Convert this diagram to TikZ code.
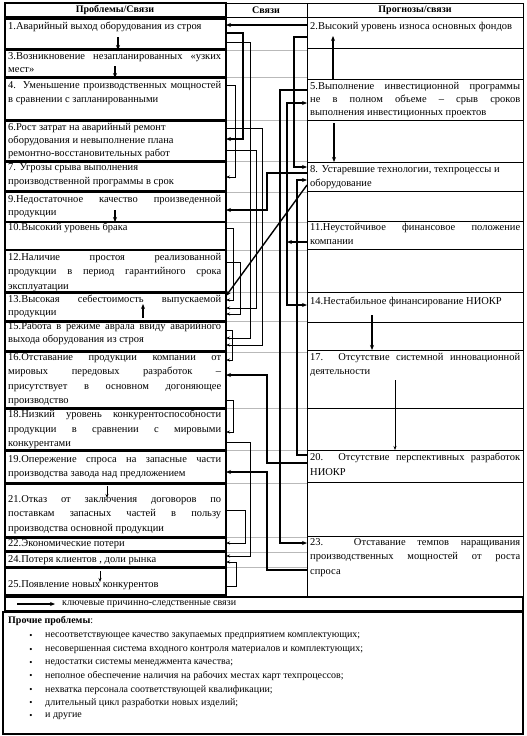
\documentclass[tikz,border=0pt]{standalone}
\usepackage{fontspec}
\setmainfont{Liberation Serif}
\usetikzlibrary{arrows.meta}
\newcommand\J[1]{\makebox[213pt][s]{#1}}
\newcommand\K[1]{\makebox[210pt][s]{#1}}
\begin{document}
\begin{tikzpicture}[x=1pt,y=-1pt,
 lb/.style={draw, line width=1.3pt, minimum width=221pt, inner sep=0pt, outer sep=0pt, anchor=north west},
 rb/.style={draw, line width=0.6pt, minimum width=216pt, inner sep=0pt, outer sep=0pt, anchor=north west},
 tx/.style={anchor=north west, inner sep=0pt, align=left, font=\fontsize{10.5}{14.5}\selectfont},
 tight/.style={font=\fontsize{10.5}{13}\selectfont},
 thk/.style={line width=1.4pt, -{Stealth[length=5pt,width=4pt]}},
 thn/.style={line width=0.6pt, -{Stealth[length=4pt,width=3pt]}},
 ln/.style={line width=0.6pt},
 gridln/.style={line width=0.5pt, gray!55}]
\useasboundingbox (0,0) rectangle (527,736);
% header
\draw[line width=1.3pt] (5,3) rectangle (226,17);
\draw[line width=0.6pt] (226,3) rectangle (307,17) (307,3) rectangle (523,17);
\node[font=\bfseries\fontsize{10}{12}\selectfont] (h1) at (115,10) {Проблемы/Связи};
\node[font=\bfseries\fontsize{10}{12}\selectfont] (h2) at (266,10) {Связи};
\node[font=\bfseries\fontsize{10}{12}\selectfont] (h3) at (415,10) {Прогнозы/связи};
% grid lines across middle column
\foreach \yy in {50,77,120,161,192,222,250,292,321,352,408,450,483,537,552,567}
  \draw[gridln] (227,\yy) -- (307,\yy);
% right column rows
\node[rb, minimum height=31pt] (r2) at (307,17) {};
\node[rb, minimum height=31pt] (e1) at (307,48) {};
\node[rb, minimum height=41pt] (r5) at (307,79) {};
\node[rb, minimum height=42pt] (e2) at (307,120) {};
\node[rb, minimum height=29pt] (r8) at (307,162) {};
\node[rb, minimum height=30pt] (e3) at (307,191) {};
\node[rb, minimum height=28pt] (r11) at (307,221) {};
\node[rb, minimum height=43pt] (e4) at (307,249) {};
\node[rb, minimum height=30pt] (r14) at (307,292) {};
\node[rb, minimum height=28pt] (e5) at (307,322) {};
\node[rb, minimum height=58pt] (r17) at (307,350) {};
\node[rb, minimum height=42pt] (e6) at (307,408) {};
\node[rb, minimum height=32pt] (r20) at (307,450) {};
\node[rb, minimum height=54pt] (e7) at (307,482) {};
\node[rb, minimum height=60pt] (r23) at (307,536) {};
% middle column borders
\draw[line width=1.4pt] (226,3) -- (226,597);
\draw[line width=0.6pt] (307,3) -- (307,597);
% left boxes
\node[lb, minimum height=30pt] (b1) at (5,19) {};
\node[lb, minimum height=27pt] (b3) at (5,50) {};
\node[lb, minimum height=42pt] (b4) at (5,78) {};
\node[lb, minimum height=40pt] (b6) at (5,121) {};
\node[lb, minimum height=29pt] (b7) at (5,162) {};
\node[lb, minimum height=30pt] (b9) at (5,192) {};
\node[lb, minimum height=28pt] (b10) at (5,222) {};
\node[lb, minimum height=42pt] (b12) at (5,250) {};
\node[lb, minimum height=28pt] (b13) at (5,293) {};
\node[lb, minimum height=29pt] (b15) at (5,322) {};
\node[lb, minimum height=56pt] (b16) at (5,352) {};
\node[lb, minimum height=41pt] (b18) at (5,409) {};
\node[lb, minimum height=32pt] (b19) at (5,451) {};
\node[lb, minimum height=53pt] (b21) at (5,484) {};
\node[lb, minimum height=13pt] (b22) at (5,538) {};
\node[lb, minimum height=15pt] (b24) at (5,552) {};
\node[lb, minimum height=27pt] (b25) at (5,568) {};
% left texts
\node[tx] (t1) at (8,22) {1.Аварийный выход оборудования из строя};
\node[tx,tight] (t3) at (8,52) {\J{3.Возникновение незапланированных «узких}\\мест»};
\node[tx] (t4) at (8,81) {\J{4. Уменьшение производственных мощностей}\\в сравнении с запланированными};
\node[tx,tight] (t6) at (8,123) {6.Рост затрат на аварийный ремонт\\оборудования и невыполнение плана\\ремонтно-восстановительных работ};
\node[tx] (t7) at (8,163) {7. Угрозы срыва выполнения\\производственной программы в срок};
\node[tx,tight] (t9) at (8,195) {\J{9.Недостаточное качество произведенной}\\продукции};
\node[tx] (t10) at (8,223) {10.Высокий уровень брака};
\node[tx] (t12) at (8,253) {\J{12.Наличие простоя реализованной}\\\J{продукции в период гарантийного срока}\\эксплуатации};
\node[tx,tight] (t13) at (8,295) {\J{13.Высокая себестоимость выпускаемой}\\продукции};
\node[tx,tight] (t15) at (8,322) {\J{15.Работа в режиме аврала ввиду аварийного}\\выхода оборудования из строя};
\node[tx] (t16) at (8,353) {\J{16.Отставание продукции компании от}\\\J{мировых передовых разработок –}\\\J{присутствует в основном догоняющее}\\производство};
\node[tx] (t18) at (8,410) {\J{18.Низкий уровень конкурентоспособности}\\\J{продукции в сравнении с мировыми}\\конкурентами};
\node[tx] (t19) at (8,455) {\J{19.Опережение спроса на запасные части}\\производства завода над предложением};
\node[tx] (t21) at (8,495) {\J{21.Отказ от заключения договоров по}\\\J{поставкам запасных частей в пользу}\\производства основной продукции};
\node[tx] (t22) at (8,539) {22.Экономические потери};
\node[tx] (t24) at (8,555) {24.Потеря клиентов , доли рынка};
\node[tx] (t25) at (8,580) {25.Появление новых конкурентов};
% right texts
\node[tx] (s2) at (310,22) {2.Высокий уровень износа основных фондов};
\node[tx,tight] (s5) at (310,82) {\K{5.Выполнение инвестиционной программы}\\\K{не в полном объеме – срыв сроков}\\выполнения инвестиционных проектов};
\node[tx] (s8) at (310,165) {8. Устаревшие технологии, техпроцессы и\\оборудование};
\node[tx] (s11) at (310,223) {\K{11.Неустойчивое финансовое положение}\\компании};
\node[tx] (s14) at (310,297) {14.Нестабильное финансирование НИОКР};
\node[tx] (s17) at (310,353) {\K{17. Отсутствие системной инновационной}\\деятельности};
\node[tx] (s20) at (310,453) {\K{20. Отсутствие перспективных разработок}\\НИОКР};
\node[tx] (s23) at (310,538) {\K{23. Отставание темпов наращивания}\\\K{производственных мощностей от роста}\\спроса};
% arrows inside columns
\draw[thk] (118,37) -- (b3.north-|118,0);
\draw[thk] (115,66) -- (b4.north-|115,0);
\draw[thk] (115,210) -- (b10.north-|115,0);
\draw[thk] (143,318) -- (143,304);
\draw[thn] (107,486) -- (107,498);
\draw[thn] (100,571) -- (100,582);
\draw[thk] (r5.north-|333,0) -- (333,36);
\draw[thk] (334,123) -- (r8.north-|334,0);
\draw[thk] (372,315) -- (r17.north-|372,0);
\draw[thn] (395,380) -- (r20.north-|395,0);
% right-side connectors
\draw[thk] (r2.west|-0,25) -- (b1.east|-0,25);
\draw[thk] (r2.west|-0,37) -- (294,37) -- (294,167) -- (r8.west|-0,167);
\draw[thk] (r5.west|-0,90) -- (280,90) -- (280,543) -- (r23.west|-0,543);
\draw[thk] (r11.west|-0,242) -- (287,242);
\draw[thk] (287,242) -- (287,103) -- (r5.west|-0,103);
\draw[thk] (287,242) -- (287,305) -- (r14.west|-0,305);
\draw[thk] (r20.west|-0,455) -- (297,455) -- (297,180) -- (r8.west|-0,180);
\draw[thk] (r8.west|-0,173) -- (267,173) -- (267,210) -- (b9.east|-0,210);
\draw[thk] (r8.west|-0,185) -- (b13.east|-0,296);
\draw[thk] (r20.west|-0,463) -- (267,463) -- (267,375) -- (b16.east|-0,375);
\draw[thk] (r23.west|-0,570) -- (267,570) -- (267,472) -- (b19.east|-0,472);
% left-side connectors
\draw[thk] (b1.east|-0,33) -- (243,33) -- (243,139) -- (b6.east|-0,139);
\draw[thn] (b1.east|-0,42) -- (250,42) -- (250,338) -- (b15.east|-0,338);
\draw[thn] (b4.east|-0,85) -- (235,85) -- (235,177) -- (b7.east|-0,177);
\draw[thn] (b6.east|-0,128) -- (262,128) -- (262,345) -- (b15.east|-0,345);
\draw[thn] (b6.east|-0,150) -- (256,150) -- (256,308) -- (b13.east|-0,308);
\draw[thn] (b10.east|-0,228) -- (233,228) -- (233,300) -- (b13.east|-0,300);
\draw[thn] (b12.east|-0,262) -- (240,262) -- (240,314) -- (b13.east|-0,314);
\draw[thn] (b15.east|-0,330) -- (232,330) -- (232,360) -- (b16.east|-0,360);
\draw[thn] (b16.east|-0,400) -- (233,400) -- (233,432) -- (b18.east|-0,432);
\draw[thn] (b18.east|-0,442) -- (250,442) -- (250,556) -- (b24.east|-0,556);
\draw[thn] (b21.east|-0,510) -- (245,510) -- (245,543) -- (b22.east|-0,543);
\draw[thn] (b25.east|-0,586) -- (236,586) -- (236,562) -- (b24.east|-0,562);
% legend
\draw[line width=1.3pt] (5,597) rectangle (523,611);
\draw[thk] (17,604) -- (55,604);
\node[anchor=west, inner sep=0pt, font=\fontsize{10}{12}\selectfont] (lg) at (62,604) {ключевые причинно-следственные связи};
% other problems
\draw[line width=1.3pt] (3,612) rectangle (523,734);
\node[anchor=west, inner sep=0pt, font=\fontsize{10}{12}\selectfont] (pp) at (8,621) {\textbf{Прочие проблемы}:};
\foreach \yy/\tt [count=\i] in {636/{несоответствующее качество закупаемых предприятием комплектующих;},
 650/{несовершенная система входного контроля материалов и комплектующих;},
 663/{недостатки системы менеджмента качества;},
 676/{неполное обеспечение наличия на рабочих местах карт техпроцессов;},
 690/{нехватка персонала соответствующей квалификации;},
 703/{длительный цикл разработки новых изделий;},
 716/{и другие}} {
 \node[anchor=center, inner sep=0pt, font=\fontsize{9}{10}\selectfont] (bu\i) at (31,\yy) {•};
 \node[anchor=west, inner sep=0pt, font=\fontsize{10}{12}\selectfont] (bt\i) at (45,\yy) {\tt};
}
\end{tikzpicture}
\end{document}
